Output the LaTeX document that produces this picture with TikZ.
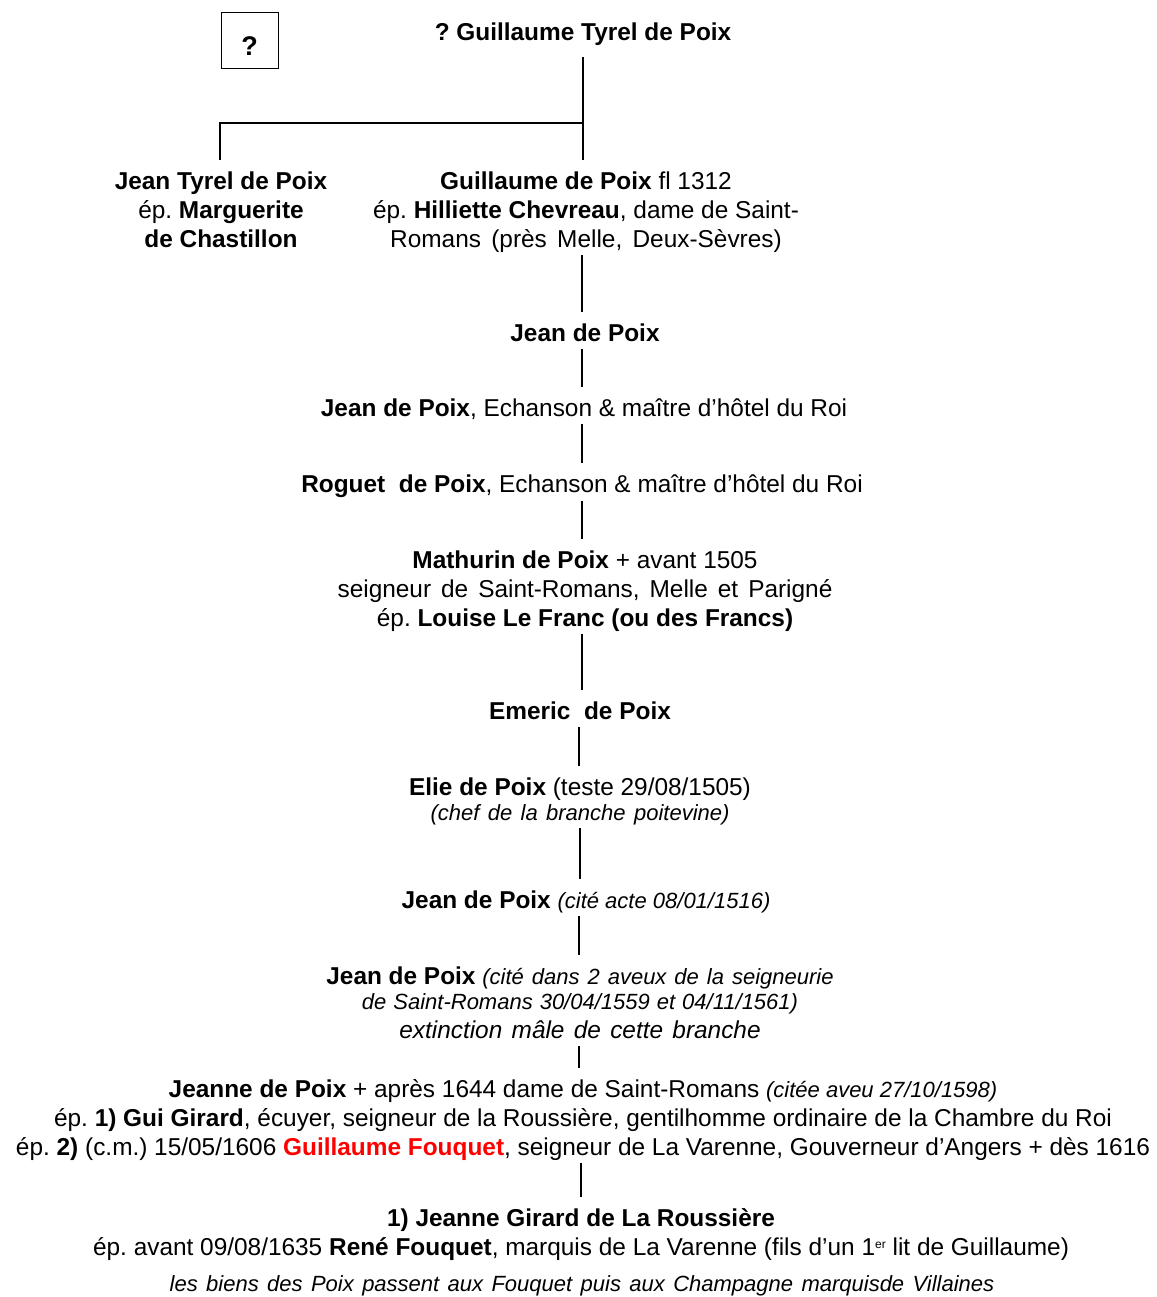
\documentclass[tikz,border=0pt]{standalone}
\usepackage{fontspec}
\setmainfont{Liberation Sans}
\newcommand\fsmain{\fontsize{24.4}{29}\selectfont\frenchspacing}
\newcommand\fssmall{\fontsize{22}{25}\selectfont\itshape}
\newcommand\TS{\rule{0pt}{18pt}}
\newcommand\BS{\rule[-5pt]{0pt}{5pt}}
\newcommand\wsp[1]{\spaceskip=#1 plus 0pt minus 0pt\relax}
\begin{document}
\begin{tikzpicture}[x=1pt,y=-1pt,
  gen/.style={anchor=north, inner sep=0pt, align=center, font=\fsmain},
  conn/.style={line width=1.8pt, shorten <=3pt, shorten >=11pt},
  fork/.style={line width=1.8pt},
  qbox/.style={draw, line width=0.9pt, minimum width=57pt, minimum height=56pt, inner sep=0pt, font=\fontsize{27}{30}\selectfont\bfseries}
]
\useasboundingbox (0,0) rectangle (1156,1297);
\fill[white] (0,0) rectangle (1156,1297);

\node[qbox] (q) at (249.5,40) {\raisebox{-15.5pt}[0pt][0pt]{?}};
\node[gen] (gt) at (583,22) {\TS\textbf{? Guillaume Tyrel de Poix}\BS};

\node[gen] (jt) at (221,171) {\TS\textbf{Jean Tyrel de Poix}\\ ép. \textbf{Marguerite}\\ \textbf{de Chastillon}\BS};
\node[gen] (gp) at (586,171) {\TS\textbf{Guillaume de Poix} fl 1312\\ ép. \textbf{Hilliette Chevreau}, dame de Saint-\\ {\wsp{10.3pt}Romans (près Melle, Deux-Sèvres)}\BS};

\node[gen] (j1) at (585,323) {\TS\textbf{Jean de Poix}\BS};
\node[gen] (j2) at (584,398) {\TS\textbf{Jean de Poix}, Echanson \& maître d’hôtel du Roi\BS};
\node[gen] (rog) at (582,474) {\TS\textbf{Roguet\ \ de Poix}, Echanson \& maître d’hôtel du Roi\BS};
\node[gen] (mat) at (585,550) {\TS\textbf{Mathurin de Poix} + avant 1505\\ {\wsp{10pt}seigneur de Saint-Romans, Melle et Parigné}\\ ép. \textbf{Louise Le Franc (ou des Francs)}\BS};
\node[gen] (em) at (580,701) {\TS\textbf{Emeric\ \ de Poix}\BS};
\node[gen] (el) at (580,777) {\TS\textbf{Elie de Poix} (teste 29/08/1505)\\[-4pt] {\fssmall\wsp{8.4pt}(chef de la branche poitevine)}\BS};
\node[gen] (jc) at (586,890) {\TS\textbf{Jean de Poix} {\fssmall (cité acte 08/01/1516)}\BS};
\node[gen] (jd) at (580,966) {\TS\textbf{Jean de Poix} {\fssmall\wsp{8pt}(cité dans 2 aveux de la seigneurie}\\[-4pt] {\fssmall\wsp{7pt}de Saint-Romans 30/04/1559 et 04/11/1561)}\\ {\itshape\wsp{9.3pt}extinction mâle de cette branche}\BS};
\node[gen] (jn) at (583,1079) {\TS\textbf{Jeanne de Poix} + après 1644 dame de Saint-Romans {\fssmall (citée aveu 27/10/1598)}\\ ép. \textbf{1) Gui Girard}, écuyer, seigneur de la Roussière, gentilhomme ordinaire de la Chambre du Roi\\ ép. \textbf{2)} (c.m.) 15/05/1606 \textcolor{red}{\textbf{Guillaume Fouquet}}, seigneur de La Varenne, Gouverneur d’Angers + dès 1616\BS};
\node[gen] (jg) at (581,1208) {\TS\textbf{1) Jeanne Girard de La Roussière}\\ ép. avant 09/08/1635 \textbf{René Fouquet}, marquis de La Varenne (fils d’un 1\raisebox{7pt}{\fontsize{12}{12}\selectfont er} lit de Guillaume)\BS};
\node[gen, font=\fssmall] (bi) at (582,1275) {\rule{0pt}{15pt}\wsp{8.4pt}les biens des Poix passent aux Fouquet puis aux Champagne marquisde Villaines};

\coordinate (fork) at (583,123);
\coordinate (gpend) at (583,160);
\coordinate (jtend) at (220,160);
\draw[fork] (gt.south) ++(0,12) -- (fork);
\draw[fork] (fork) -- (gpend);
\draw[fork] (fork) -- (fork -| jtend) -- (jtend);
\draw[conn] (gp.south -| 582,0) -- (j1.north -| 582,0);
\draw[conn] (j1.south -| 582,0) -- (j2.north -| 582,0);
\draw[conn] (j2.south -| 582,0) -- (rog.north -| 582,0);
\draw[conn] (rog.south -| 582,0) -- (mat.north -| 582,0);
\draw[conn] (mat.south -| 582,0) -- (em.north -| 582,0);
\draw[conn] (em.south -| 579,0) -- (el.north -| 579,0);
\draw[conn] (el.south -| 580,0) -- (jc.north -| 580,0);
\draw[conn] (jc.south -| 579,0) -- (jd.north -| 579,0);
\draw[conn] (jd.south -| 579,0) -- (jn.north -| 579,0);
\draw[conn] (jn.south -| 581,0) -- (jg.north -| 581,0);
\end{tikzpicture}
\end{document}
